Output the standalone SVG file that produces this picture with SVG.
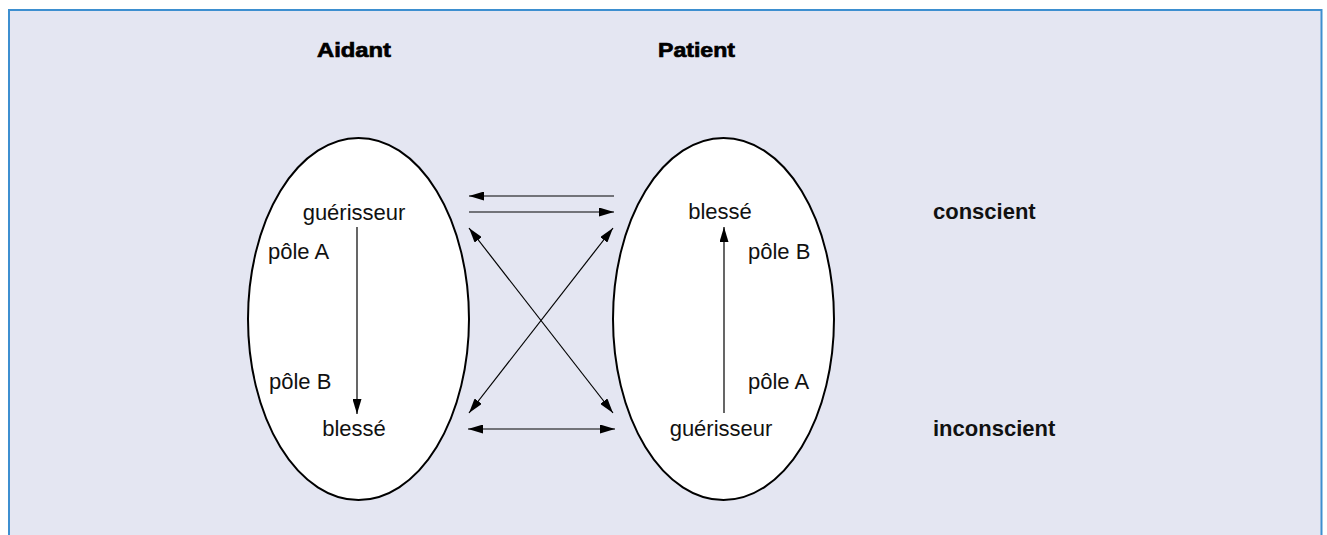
<svg xmlns="http://www.w3.org/2000/svg" width="1327" height="535" viewBox="0 0 1327 535">
<defs>
<style>
.txt{font-family:"Liberation Sans",Arial,sans-serif;font-size:22px;fill:#111;}
.bold{font-weight:bold;}
.hdr{font-family:"Liberation Sans",Arial,sans-serif;font-size:21px;font-weight:bold;fill:#000;stroke:#000;stroke-width:0.7px;}
.ell{fill:#fff;stroke:#000;stroke-width:2;}
.con{stroke:#000;stroke-width:1.2;fill:none;}
</style>
<marker id="ah" markerUnits="userSpaceOnUse" markerWidth="15" markerHeight="9" viewBox="0 0 15 9" refX="15" refY="4.5" orient="auto-start-reverse">
<path d="M0,0 L15,4.5 L0,9 z" fill="#000"/>
</marker>
</defs>
<rect x="9" y="10" width="1312.5" height="540" fill="#e4e6f2" stroke="#3d8fd0" stroke-width="2"/>
<g id="headers">
<text class="hdr" x="317" y="57" textLength="74" lengthAdjust="spacingAndGlyphs">Aidant</text>
<text class="hdr" x="658" y="57" textLength="77" lengthAdjust="spacingAndGlyphs">Patient</text>
</g>
<g id="levels">
<text class="txt bold" x="933" y="219">conscient</text>
<text class="txt bold" x="933" y="436">inconscient</text>
</g>
<g id="aidant">
<ellipse class="ell" cx="358.5" cy="319" rx="110.5" ry="181"/>
<text class="txt" x="354" y="220" text-anchor="middle">guérisseur</text>
<text class="txt" x="268" y="259">pôle A</text>
<text class="txt" x="269" y="389">pôle B</text>
<text class="txt" x="354" y="436" text-anchor="middle">blessé</text>
<line class="con" x1="357" y1="227" x2="357" y2="414" marker-end="url(#ah)"/>
</g>
<g id="patient">
<ellipse class="ell" cx="723.5" cy="319" rx="110.5" ry="181"/>
<text class="txt" x="720" y="219" text-anchor="middle">blessé</text>
<text class="txt" x="748" y="259">pôle B</text>
<text class="txt" x="748" y="389">pôle A</text>
<text class="txt" x="721" y="436" text-anchor="middle">guérisseur</text>
<line class="con" x1="724" y1="413" x2="724" y2="227" marker-end="url(#ah)"/>
</g>
<g id="connectors">
<line class="con" x1="614" y1="196" x2="469" y2="196" marker-end="url(#ah)"/>
<line class="con" x1="469" y1="212" x2="614" y2="212" marker-end="url(#ah)"/>
<line class="con" x1="469" y1="228" x2="613" y2="413" marker-start="url(#ah)" marker-end="url(#ah)"/>
<line class="con" x1="613" y1="228" x2="469" y2="413" marker-start="url(#ah)" marker-end="url(#ah)"/>
<line class="con" x1="468" y1="429" x2="615" y2="429" marker-start="url(#ah)" marker-end="url(#ah)"/>
</g>
</svg>
